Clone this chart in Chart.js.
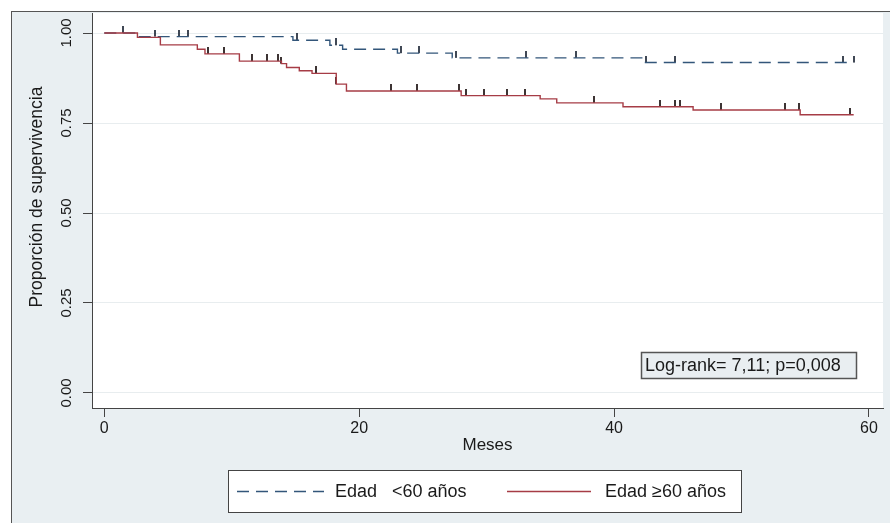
<!DOCTYPE html>
<html><head><meta charset="utf-8">
<script src="https://cdn.jsdelivr.net/npm/chart.js@4.4.1/dist/chart.umd.min.js"></script>
<style>html,body{margin:0;padding:0;background:#fff;}#wrap{width:890px;height:523px;}</style>
</head><body><div id="wrap"><canvas id="c" width="890" height="523"></canvas></div>
<script>
// ---- data ----
const xTicks = [0, 20, 40, 60];
const yTicks = [0, 0.25, 0.5, 0.75, 1];
const seriesLabels = ['Edad   <60 años', 'Edad \u226560 años'];
const yTitle = 'Proporción de supervivencia';
const xTitle = 'Meses';
const logRankText = 'Log-rank= 7,11; p=0,008';

// Edad < 60: event times (months) and survival after each step
const youngTimes = [0, 2.6, 14.8, 17.7, 18.7, 23.0, 27.3, 42.4, 58.8];
const youngSurv  = [1.0, 0.990, 0.980, 0.966, 0.955, 0.944, 0.931, 0.918, 0.918];
const youngCensored = [1.5, 4.0, 5.9, 6.6, 15.1, 18.2, 23.3, 24.7, 27.6, 33.1, 37.0, 42.5, 44.8, 58.0, 58.8];

// Edad >= 60
const oldTimes = [0, 2.6, 4.4, 7.3, 7.9, 10.6, 13.9, 14.3, 15.3, 16.3, 18.2, 19.0, 28.0, 34.2, 35.5, 40.7, 46.2, 54.6, 58.8];
const oldSurv  = [1.0, 0.988, 0.967, 0.955, 0.942, 0.922, 0.915, 0.904, 0.895, 0.888, 0.858, 0.839, 0.826, 0.817, 0.806, 0.795, 0.786, 0.773, 0.773];
const oldCensored = [8.1, 9.4, 11.6, 12.8, 13.6, 13.9, 16.6, 18.2, 22.5, 24.5, 27.8, 28.4, 29.8, 31.6, 33.0, 38.4, 43.6, 44.8, 45.2, 48.4, 53.4, 54.5, 58.5];

const BLUE = '#33567a';
const RED = '#a63c46';
const TXT = '#1a1a1a';

function pts(ts, ss) { return ts.map((t, i) => ({x: t, y: ss[i]})); }
function survAt(ts, ss, t) { let s = ss[0]; for (let i = 0; i < ts.length; i++) { if (ts[i] <= t) s = ss[i]; } return s; }
function censorPts(c, ts, ss) { return c.map(t => ({x: t, y: survAt(ts, ss, t)})); }

function tickImage(color) {
  const cv = document.createElement('canvas');
  cv.width = 2; cv.height = 14;
  const g = cv.getContext('2d');
  g.fillStyle = color;
  g.fillRect(0, 0, 2, 7);
  return cv;
}

const FONT = '"Liberation Sans", Arial, sans-serif';

const bgPlugin = {
  id: 'bg',
  beforeDraw(chart) {
    const ctx = chart.ctx, a = chart.chartArea;
    ctx.save();
    ctx.fillStyle = '#ffffff';
    ctx.fillRect(0, 0, chart.width, chart.height);
    ctx.fillStyle = '#e9eff2';
    ctx.fillRect(12, 12, chart.width, chart.height);
    ctx.strokeStyle = '#555';
    ctx.lineWidth = 1;
    ctx.strokeRect(11.5, 11.5, chart.width + 10, chart.height + 10);
    ctx.fillStyle = '#ffffff';
    ctx.fillRect(a.left, a.top, a.right - a.left, a.bottom - a.top);
    ctx.restore();
  },
  afterDraw(chart) {
    const ctx = chart.ctx;
    ctx.save();
    // y axis title
    ctx.save();
    ctx.translate(37, 197);
    ctx.rotate(-Math.PI / 2);
    ctx.fillStyle = TXT;
    ctx.font = '17.5px ' + FONT;
    ctx.textAlign = 'center';
    ctx.textBaseline = 'middle';
    ctx.fillText(yTitle, 0, 0);
    ctx.restore();
    // log-rank box
    ctx.fillStyle = '#e9eef1';
    ctx.fillRect(641, 352, 215, 26);
    ctx.strokeStyle = '#555';
    ctx.lineWidth = 1.5;
    ctx.strokeRect(641.5, 352.5, 215, 26);
    ctx.fillStyle = TXT;
    ctx.font = '18px ' + FONT;
    ctx.textBaseline = 'middle';
    ctx.textAlign = 'left';
    ctx.fillText(logRankText, 645, 366);
    // legend
    ctx.fillStyle = '#ffffff';
    ctx.fillRect(228, 470, 513, 42);
    ctx.strokeStyle = '#444';
    ctx.lineWidth = 1;
    ctx.strokeRect(228.5, 470.5, 513, 42);
    ctx.lineWidth = 1.4;
    ctx.strokeStyle = BLUE;
    ctx.setLineDash([12, 7]);
    ctx.beginPath(); ctx.moveTo(237, 491.5); ctx.lineTo(324, 491.5); ctx.stroke();
    ctx.setLineDash([]);
    ctx.strokeStyle = RED;
    ctx.beginPath(); ctx.moveTo(507, 491.5); ctx.lineTo(591, 491.5); ctx.stroke();
    ctx.fillStyle = TXT;
    ctx.fillText(seriesLabels[0], 335, 492);
    ctx.fillText(seriesLabels[1], 605, 492);
    ctx.restore();
  }
};

new Chart(document.getElementById('c'), {
  type: 'line',
  data: {
    datasets: [
      { label: seriesLabels[1], data: pts(oldTimes, oldSurv), stepped: true, borderColor: RED, borderWidth: 1.4, pointRadius: 0, fill: false },
      { label: seriesLabels[0], data: pts(youngTimes, youngSurv), stepped: true, borderColor: BLUE, borderDash: [12, 7], borderWidth: 1.4, pointRadius: 0, fill: false },
      { type: 'scatter', label: 'c1', data: censorPts(oldCensored, oldTimes, oldSurv), pointStyle: tickImage('rgba(40,30,30,0.9)'), pointRadius: 5 },
      { type: 'scatter', label: 'c0', data: censorPts(youngCensored, youngTimes, youngSurv), pointStyle: tickImage('rgba(30,40,55,0.85)'), pointRadius: 5 }
    ]
  },
  options: {
    responsive: false,
    animation: false,
    devicePixelRatio: 1,
    layout: { padding: { left: 12, top: 13, right: 7, bottom: 65 } },
    plugins: { legend: { display: false }, tooltip: { enabled: false } },
    scales: {
      x: {
        type: 'linear', min: -0.965, max: 61.1,
        afterBuildTicks: s => { s.ticks = xTicks.map(v => ({value: v})); },
        afterFit: s => { s.height = 50; },
        grid: { drawOnChartArea: false, tickLength: 9, tickColor: '#444', tickWidth: 1 },
        border: { display: true, color: '#444', width: 1 },
        ticks: { maxRotation: 0, padding: 2, color: TXT, font: { family: FONT, size: 16 }, callback: v => String(v) },
        title: { display: true, text: xTitle, color: TXT, font: { family: FONT, size: 17 }, padding: { top: 0, bottom: 2 } }
      },
      y: {
        type: 'linear', min: -0.0417, max: 1.0556,
        afterBuildTicks: s => { s.ticks = yTicks.map(v => ({value: v})); },
        afterFit: s => { s.width = 80; },
        grid: { drawOnChartArea: true, color: '#e8edef', tickLength: 9, tickColor: '#444', tickWidth: 1 },
        border: { display: true, color: '#444', width: 1 },
        ticks: { minRotation: 90, maxRotation: 90, crossAlign: 'center', padding: 2, color: TXT, font: { family: FONT, size: 15 }, callback: v => v.toFixed(2) },
        title: { display: false }
      }
    }
  },
  plugins: [bgPlugin]
});
</script>
</body></html>
